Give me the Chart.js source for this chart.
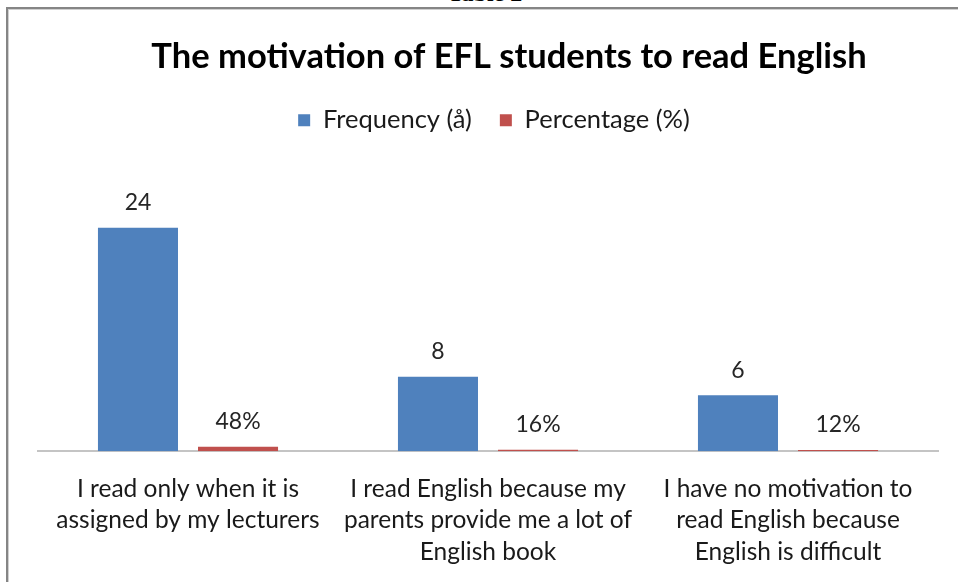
<!DOCTYPE html>
<html>
<head>
<meta charset="utf-8">
<script src="https://cdn.jsdelivr.net/npm/chart.js@4"></script>
<style>
  html, body { margin: 0; padding: 0; background: #fff; overflow: hidden; }
  #page { position: relative; width: 958px; height: 582px; overflow: hidden; }
  #caption {
    position: absolute; left: 0; width: 958px; top: -20px; text-align: center;
    font: bold 24px "Liberation Serif", "DejaVu Serif", serif; color: #000;
    padding-left: 12px; box-sizing: border-box;
  }
  #frame {
    position: absolute; left: 6px; top: 7px; width: 1200px; height: 900px;
    border-left: 2px solid #858585; border-top: 2px solid #858585;
    box-shadow: inset 1px 1px 0 #d0d0d0;
  }
  #wrap { position: absolute; left: 0; top: 0; width: 958px; height: 590px; }
</style>
</head>
<body>
<div id="page">
  <div id="caption">Table 2</div>
  <div id="frame"></div>
  <div id="wrap"><canvas id="chart" width="958" height="590"></canvas></div>
</div>
<script>
// Survey answers on reading motivation
const categories = [
  ["I read only when it is", "assigned by my lecturers"],
  ["I read English because my", "parents provide me a lot of", "English book"],
  ["I have no motivation to", "read English because", "English is difficult"]
];
const frequency = [24, 8, 6];
const percentage = [0.48, 0.16, 0.12];
const seriesNames = ["Frequency (å)", "Percentage (%)"];

const FONT = "Lato, 'Open Sans', 'Noto Sans', sans-serif";

// Draws the value above each bar
const valueLabels = {
  id: 'valueLabels',
  afterDatasetsDraw(chart) {
    const ctx = chart.ctx;
    ctx.save();
    ctx.font = "23px " + FONT;
    ctx.fillStyle = "#262626";
    ctx.textAlign = "center";
    ctx.textBaseline = "middle";
    chart.data.datasets.forEach((ds, di) => {
      const meta = chart.getDatasetMeta(di);
      meta.data.forEach((bar, i) => {
        const v = ds.data[i];
        const txt = di === 1 ? Math.round(v * 100) + "%" : String(v);
        ctx.fillText(txt, bar.x, bar.y - 25);
      });
    });
    ctx.restore();
  }
};

// Leaves blank room under the legend and nudges the header blocks right
const headerLayout = {
  id: 'headerLayout',
  beforeInit(chart) {
    const legend = chart.legend;
    if (!legend) return;
    const fit = legend.fit;
    legend.fit = function () {
      fit.call(this);
      this.height += 29;
    };
  },
  afterLayout(chart) {
    const t = chart.titleBlock;
    if (t) { t.left += 21; t.right += 21; }
    const l = chart.legend;
    if (l) { l.left += 6; l.right += 6; }
  }
};

new Chart(document.getElementById('chart'), {
  type: 'bar',
  data: {
    labels: categories,
    datasets: [
      { label: seriesNames[0], data: frequency, backgroundColor: '#4F81BD' },
      { label: seriesNames[1], data: percentage, backgroundColor: '#C0504D' }
    ]
  },
  options: {
    responsive: false,
    animation: false,
    devicePixelRatio: 1,
    layout: { padding: { left: 38, right: 20, top: 0, bottom: 0 } },
    datasets: { bar: { categoryPercentage: 0.667, barPercentage: 0.8 } },
    plugins: {
      title: {
        display: true,
        text: 'The motivation of EFL students to read English',
        color: '#000',
        font: { family: FONT, size: 34.5, weight: 'bold' },
        padding: { top: 36, bottom: 2 }
      },
      legend: {
        display: true,
        labels: {
          color: '#1a1a1a',
          font: { family: FONT, size: 25.5 },
          boxWidth: 12, boxHeight: 12,
          padding: 28
        }
      },
      tooltip: { enabled: false }
    },
    scales: {
      x: {
        z: 1,
        grid: { display: false, drawTicks: false },
        border: { display: true, color: '#c4c4c4', width: 2 },
        ticks: {
          color: '#1a1a1a',
          font: { family: FONT, size: 24.5, lineHeight: 1.29 },
          padding: 22,
          maxRotation: 0, autoSkip: false
        }
      },
      y: {
        display: false,
        min: 0, max: 30
      }
    }
  },
  plugins: [valueLabels, headerLayout]
});
</script>
</body>
</html>
